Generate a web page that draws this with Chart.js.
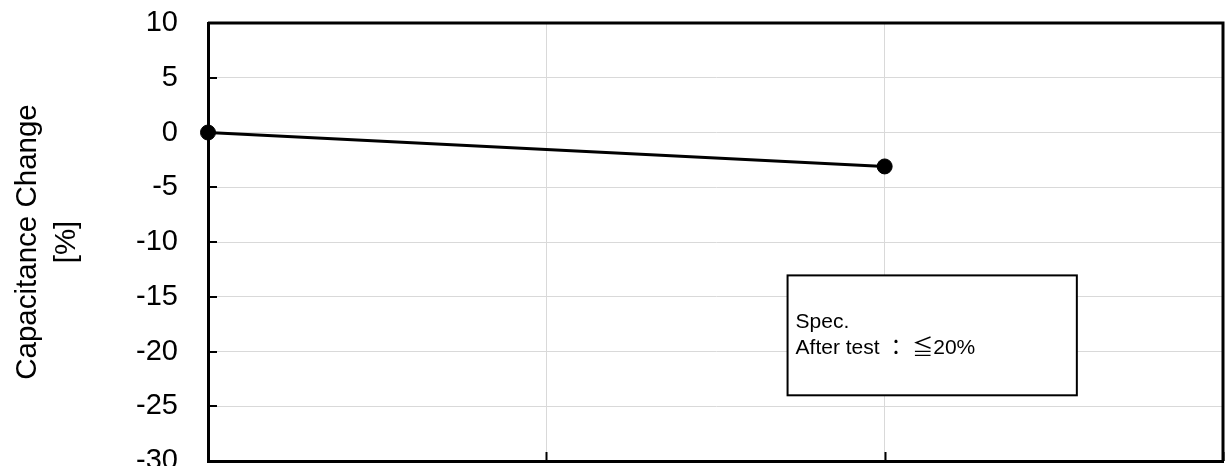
<!DOCTYPE html>
<html>
<head>
<meta charset="utf-8">
<script src="https://cdn.jsdelivr.net/npm/chart.js@4.4.1/dist/chart.umd.min.js"></script>
<style>
  html, body { margin: 0; padding: 0; background: #fff; overflow: hidden; }
  canvas { display: block; }
</style>
</head>
<body>
<canvas id="c" width="1226" height="466"></canvas>
<script>
// ---- data ----
const xPositions = [0, 2];
const capacitanceChange = [0, -3.1];
const yTickValues = [10, 5, 0, -5, -10, -15, -20, -25, -30];
const yAxisTitle = ["Capacitance Change", "[%]"];
const specLines = ["Spec.", "After test \uFF1A \u2266" + "20%"];
// spec box corners in data units (x: 0..3, y: -30..10)
const specBoxX = [1.713, 2.568];
const specBoxY = [-13.05, -24.0];

const FONT = "'Liberation Sans', Arial, 'Noto Sans CJK JP', sans-serif";

const framePlugin = {
  id: 'frame',
  afterDraw(chart) {
    const ctx = chart.ctx;
    const a = chart.chartArea;
    const xs = chart.scales.x, ys = chart.scales.y;
    ctx.save();
    // inner tick marks
    ctx.strokeStyle = '#000';
    ctx.lineWidth = 2;
    ys.ticks.forEach(t => {
      const y = Math.round(ys.getPixelForValue(t.value));
      ctx.beginPath(); ctx.moveTo(a.left, y); ctx.lineTo(a.left + 9, y); ctx.stroke();
    });
    xs.ticks.forEach(t => {
      const x = Math.round(xs.getPixelForValue(t.value)) + 0.5;
      ctx.beginPath(); ctx.moveTo(x, a.bottom); ctx.lineTo(x, a.bottom - 9); ctx.stroke();
    });
    // top and right frame
    ctx.lineWidth = 3;
    ctx.beginPath();
    ctx.moveTo(a.left, a.top); ctx.lineTo(a.right, a.top); ctx.lineTo(a.right, a.bottom);
    ctx.stroke();
    // spec box
    const x0 = xs.getPixelForValue(specBoxX[0]), x1 = xs.getPixelForValue(specBoxX[1]);
    const y0 = ys.getPixelForValue(specBoxY[0]), y1 = ys.getPixelForValue(specBoxY[1]);
    ctx.fillStyle = '#fff';
    ctx.fillRect(x0, y0, x1 - x0, y1 - y0);
    ctx.lineWidth = 2;
    ctx.strokeStyle = '#000';
    ctx.strokeRect(x0, y0, x1 - x0, y1 - y0);
    ctx.fillStyle = '#000';
    ctx.font = "21px " + FONT;
    ctx.textBaseline = 'middle';
    ctx.textAlign = 'left';
    const mid = (y0 + y1) / 2;
    ctx.fillText(specLines[0], x0 + 8, mid - 13);
    ctx.fillText(specLines[1], x0 + 8, mid + 13);
    ctx.restore();
  }
};

new Chart(document.getElementById('c'), {
  type: 'line',
  data: {
    datasets: [{
      data: xPositions.map((x, i) => ({ x: x, y: capacitanceChange[i] })),
      borderColor: '#000',
      backgroundColor: '#000',
      borderWidth: 3,
      pointRadius: 7.5,
      pointBorderWidth: 1,
      pointBackgroundColor: '#000',
      pointBorderColor: '#000',
      tension: 0,
      clip: false
    }]
  },
  options: {
    responsive: false,
    animation: false,
    devicePixelRatio: 1,
    layout: { autoPadding: false, padding: { left: 0, top: 23, right: 3, bottom: 5 } },
    plugins: { legend: { display: false }, tooltip: { enabled: false } },
    scales: {
      x: {
        type: 'linear',
        min: 0, max: 3,
        ticks: { display: false, stepSize: 1 },
        grid: { color: '#d9d9d9', lineWidth: 1, drawTicks: false },
        border: { color: '#000', width: 3 },
        afterFit(s) { s.height = 0; s.paddingLeft = 0; s.paddingRight = 0; }
      },
      y: {
        min: -30, max: 10,
        afterBuildTicks(s) { s.ticks = yTickValues.map(v => ({ value: v })); },
        ticks: {
          color: '#000',
          padding: 30,
          font: { family: FONT, size: 29 }
        },
        grid: { color: '#d9d9d9', lineWidth: 1, drawTicks: false },
        border: { color: '#000', width: 3 },
        title: {
          display: true,
          text: yAxisTitle,
          color: '#000',
          font: { family: FONT, size: 29.5, lineHeight: 1.3 },
          padding: { top: 9, bottom: 0 }
        },
        afterFit(s) { s.width = 208; s.paddingTop = 0; s.paddingBottom = 0; }
      }
    }
  },
  plugins: [framePlugin]
});
</script>
</body>
</html>
